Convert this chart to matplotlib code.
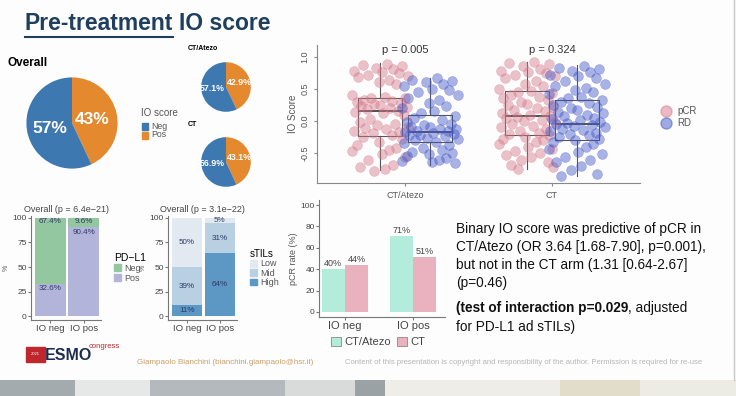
import matplotlib.pyplot as plt
from matplotlib.patches import Patch, Rectangle
from matplotlib.lines import Line2D

# ---- data ----
io_labels = ['Neg', 'Pos']
overall_pct = [57, 43]
atezo_pct = [57.1, 42.9]
ct_pct = [56.9, 43.1]

arms = ['CT/Atezo', 'CT']
p_values = ['p = 0.005', 'p = 0.324']
# IO score per patient
atezo_pcr = [0.88, 0.87, 0.85, 0.82, 0.80, 0.78, 0.76, 0.75, 0.72, 0.70, 0.68, 0.64, 0.60, 0.57,
             0.40, 0.38, 0.36, 0.35, 0.33, 0.31, 0.30, 0.28, 0.27, 0.25, 0.24, 0.22, 0.20, 0.18,
             0.16, 0.14, 0.12, 0.10, 0.03, -0.02, -0.05, -0.07, -0.09, -0.11, -0.13, -0.15, -0.17,
             -0.19, -0.22, -0.25, -0.28, -0.33, -0.38, -0.42, -0.45, -0.47, -0.52, -0.56, -0.60,
             -0.68, -0.72, -0.75, -0.78]
atezo_rd = [0.66, 0.64, 0.62, 0.60, 0.58, 0.55, 0.50, 0.48, 0.45, 0.40, 0.36, 0.32, 0.28, 0.24,
            0.20, 0.16, 0.12, 0.08, 0.05, 0.02, -0.02, -0.05, -0.07, -0.09, -0.10, -0.12, -0.13,
            -0.15, -0.16, -0.17, -0.18, -0.20, -0.21, -0.22, -0.24, -0.26, -0.28, -0.30, -0.32,
            -0.34, -0.38, -0.42, -0.45, -0.48, -0.50, -0.52, -0.55, -0.58, -0.60, -0.62, -0.64, -0.66]
ct_pcr = [0.92, 0.90, 0.88, 0.85, 0.80, 0.78, 0.76, 0.74, 0.72, 0.70, 0.66, 0.62, 0.58, 0.55,
          0.50, 0.47, 0.45, 0.43, 0.40, 0.38, 0.35, 0.32, 0.30, 0.27, 0.25, 0.22, 0.20, 0.17,
          0.15, 0.12, 0.10, 0.08, 0.06, 0.04, 0.02, 0.0, -0.02, -0.05, -0.08, -0.10, -0.12,
          -0.15, -0.18, -0.20, -0.22, -0.25, -0.28, -0.30, -0.33, -0.36, -0.40, -0.43, -0.46,
          -0.50, -0.53, -0.56, -0.60, -0.64, -0.68, -0.72, -0.74]
ct_rd = [0.86, 0.83, 0.80, 0.78, 0.76, 0.72, 0.70, 0.66, 0.62, 0.58, 0.55, 0.52, 0.48, 0.45,
         0.42, 0.38, 0.35, 0.32, 0.30, 0.28, 0.25, 0.22, 0.20, 0.17, 0.14, 0.12, 0.10, 0.07,
         0.05, 0.03, 0.01, -0.01, -0.03, -0.05, -0.06, -0.08, -0.10, -0.12, -0.14, -0.16,
         -0.18, -0.20, -0.22, -0.25, -0.28, -0.30, -0.33, -0.36, -0.40, -0.44, -0.48, -0.52,
         -0.56, -0.60, -0.64, -0.70, -0.76, -0.82, -0.86]
# horizontal jitter of the points (category units)
jitter = [0.05, -0.12, 0.15, -0.03, 0.09, -0.18, 0.01, 0.13, -0.08, 0.19, -0.15, 0.06, -0.01,
          0.11, -0.19, 0.03, -0.06, 0.17, -0.11, 0.08, -0.16, 0.14, -0.04, 0.00, -0.13, 0.18,
          0.07, -0.09, 0.12, -0.17, 0.02, 0.16, -0.07, -0.14, 0.10, -0.02, 0.19, -0.10, 0.04,
          -0.18, 0.13, -0.05, 0.08, -0.12, 0.15, -0.01, -0.16, 0.11, 0.06, -0.19, 0.01, 0.17,
          -0.08, 0.09, -0.14, 0.03, -0.04, 0.14, -0.11, 0.18, -0.06, 0.05, -0.17, 0.12]
# box stats: (q1, median, q3, low whisker, high whisker)
box_stats = {'atezo_pcr': (-0.23, 0.15, 0.36, -0.76, 0.90),
             'atezo_rd': (-0.33, -0.17, 0.09, -0.68, 0.66),
             'ct_pcr': (-0.21, 0.07, 0.46, -0.74, 0.92),
             'ct_rd': (-0.30, -0.04, 0.32, -0.86, 0.87)}

groups = ['IO neg', 'IO pos']
pdl1_pos = [32.6, 90.4]
pdl1_neg = [67.4, 9.6]
stil_high = [11, 64]
stil_mid = [39, 31]
stil_low = [50, 5]
pcr_atezo = [40, 71]
pcr_ct = [44, 51]

W, H = 736, 396
fig = plt.figure(figsize=(7.36, 3.96), dpi=100)
fig.patch.set_facecolor('#fdfdfd')
plt.rcParams['font.family'] = ['Liberation Sans', 'DejaVu Sans']
renderer = fig.canvas.get_renderer()


def box(x0, y0, x1, y1):
    # pixel box (top-left origin) -> figure fraction
    return [x0 / W, 1 - y1 / H, (x1 - x0) / W, (y1 - y0) / H]


def ftext(x, y, s, **kw):
    return fig.text(x / W, 1 - y / H, s, **kw)


def right_px(t):
    return t.get_window_extent(renderer).x1


BLUE = '#3d78b0'
ORANGE = '#e4892e'
TITLE_C = '#1f3f5e'

# ---- title ----
t = ftext(25, 24, 'Pre-treatment', fontsize=16.5, fontweight='bold', color=TITLE_C, va='center')
x_end = right_px(t)
fig.add_artist(Line2D([25 / W, x_end / W], [1 - 37 / H, 1 - 37 / H], color=TITLE_C, lw=1.5))
ftext(x_end + 6, 24, 'IO score', fontsize=16.5, fontweight='bold', color=TITLE_C, va='center')

# ---- pies ----
def pie(rect, vals):
    ax = fig.add_axes(rect)
    ax.pie([vals[1], vals[0]], colors=[ORANGE, BLUE], startangle=90,
           counterclock=False, radius=1)
    ax.set_aspect('equal')
    return ax

ax = pie(box(15, 66, 129, 180), overall_pct)
ax.text(-0.48, -0.12, f'{overall_pct[0]}%', color='white', fontsize=12.5, fontweight='bold',
        ha='center', va='center')
ax.text(0.45, 0.07, f'{overall_pct[1]}%', color='white', fontsize=12.5, fontweight='bold',
        ha='center', va='center')
ftext(8, 63, 'Overall', fontsize=8.5, fontweight='bold', va='center')

for (cy, vals, name) in [(87, atezo_pct, 'CT/Atezo'), (162, ct_pct, 'CT')]:
    ax = pie(box(195, cy - 31, 257, cy + 31), vals)
    ax.text(-0.55, -0.08, f'{vals[0]}%', color='white', fontsize=6.3, fontweight='bold',
            ha='center', va='center')
    ax.text(0.52, 0.18, f'{vals[1]}%', color='white', fontsize=6.3, fontweight='bold',
            ha='center', va='center')
    ftext(188, cy - 38, name, fontsize=5, fontweight='bold', va='center')

ftext(141, 113, 'IO score', fontsize=7, color='#555', va='center')
for i, (lab, c) in enumerate(zip(io_labels, [BLUE, ORANGE])):
    y = 126.5 + i * 8.5
    fig.add_artist(Rectangle((142 / W, 1 - (y + 3.5) / H), 6 / W, 7 / H, color=c))
    ftext(151, y, lab, fontsize=6.3, color='#555', va='center')

# ---- IO score strip/box plot ----
ax = fig.add_axes(box(317, 45, 640, 183))
PINK = '#d6788a'
NAVY = '#4357c8'
offs = -0.17, 0.17
series = [(1, atezo_pcr, 'atezo_pcr', 0), (1, atezo_rd, 'atezo_rd', 1),
          (2, ct_pcr, 'ct_pcr', 0), (2, ct_rd, 'ct_rd', 1)]
for xc, ys, key, k in series:
    pos = xc + offs[k]
    q1, med, q3, lo, hi = box_stats[key]
    ax.bxp([{'med': med, 'q1': q1, 'q3': q3, 'whislo': lo, 'whishi': hi, 'fliers': []}],
           positions=[pos], widths=0.3, showcaps=False, manage_ticks=False,
           boxprops=dict(color='#555', lw=0.8), whiskerprops=dict(color='#555', lw=0.8),
           medianprops=dict(color='#333', lw=1.2))
    xs = [pos + jitter[i % len(jitter)] for i in range(len(ys))]
    col = [PINK, NAVY][k]
    ax.scatter(xs, ys, s=50, color=col, alpha=0.45, edgecolors=col, linewidths=0.4, zorder=3)
ax.set_xlim(0.4, 2.6)
ax.set_ylim(-0.963, 1.18)
ax.set_xticks([1, 2], arms)
ax.set_yticks([-0.5, 0.0, 0.5, 1.0], ['-0.5', '0.0', '0.5', '1.0'])
for lab in ax.get_yticklabels():
    lab.set_rotation(90)
    lab.set_va('center')
ax.tick_params(labelsize=6.5, colors='#888', labelcolor='#555', length=2)
ax.set_ylabel('IO Score', fontsize=7, color='#555', labelpad=2)
for s in ['top', 'right']:
    ax.spines[s].set_visible(False)
for s in ['left', 'bottom']:
    ax.spines[s].set_color('#888')
ax.set_facecolor('none')
for xc, p in zip([1, 2], p_values):
    ax.text(xc, 1.1, p, ha='center', va='center', fontsize=8, color='#333')
ax.legend(handles=[Line2D([], [], marker='o', ls='', ms=8, color=PINK, alpha=0.5, label='pCR'),
                   Line2D([], [], marker='o', ls='', ms=8, color=NAVY, alpha=0.5, label='RD')],
          loc='center left', bbox_to_anchor=(648 / W, 1 - 117 / H), bbox_transform=fig.transFigure,
          frameon=False, fontsize=7, handletextpad=0.1, labelspacing=0.2, labelcolor='#555')


def style_small(ax):
    for s in ['top', 'right']:
        ax.spines[s].set_visible(False)
    for s in ['left', 'bottom']:
        ax.spines[s].set_color('#777')
    ax.tick_params(labelsize=6, colors='#777', labelcolor='#444', length=2, pad=1)
    ax.set_facecolor('none')


# ---- PD-L1 stacked bars ----
GREEN = '#93c79f'
LAV = '#b3b4da'
TXT = '#2f3a66'
ax = fig.add_axes(box(31, 216, 101, 320))
xs = [1, 2]
ax.bar(xs, pdl1_pos, width=0.93, color=LAV)
ax.bar(xs, pdl1_neg, width=0.93, bottom=pdl1_pos, color=GREEN)
for i in range(2):
    ax.text(xs[i], pdl1_pos[i] - 5, f'{pdl1_pos[i]}%', ha='center', va='center', fontsize=5.8, color=TXT)
    ax.text(xs[i], 100 - 4, f'{pdl1_neg[i]}%', ha='center', va='center', fontsize=5.8, color=TXT)
ax.set_xlim(0.42, 2.52)
ax.set_ylim(-4, 102)
ax.set_yticks([0, 25, 50, 75, 100])
ax.set_xticks(xs, groups)
style_small(ax)
ax.tick_params(axis='x', labelsize=6.8)
ax.set_ylabel('%', fontsize=5, color='#555', labelpad=2)
ax.set_title('Overall (p = 6.4e\u221221)', fontsize=6.5, color='#444', pad=3)
ax.legend(handles=[Patch(color=GREEN, label='Neg'), Patch(color=LAV, label='Pos')],
          title='PD\u2212L1', loc='center left', bbox_to_anchor=(106 / W, 1 - 268 / H),
          bbox_transform=fig.transFigure, frameon=False, fontsize=6.5, title_fontsize=7.5,
          handlelength=0.8, handleheight=0.8, handletextpad=0.3, labelspacing=0.1,
          alignment='left', labelcolor='#555')

# ---- sTILs stacked bars ----
S_LOW = '#e2e9f1'
S_MID = '#b8d0e2'
S_HIGH = '#5d97c4'
ax = fig.add_axes(box(168, 216, 237, 320))
ax.bar(xs, stil_high, width=0.93, color=S_HIGH)
ax.bar(xs, stil_mid, width=0.93, bottom=stil_high, color=S_MID)
bot2 = [a + b for a, b in zip(stil_high, stil_mid)]
ax.bar(xs, stil_low, width=0.93, bottom=bot2, color=S_LOW)
for i in range(2):
    ax.text(xs[i], stil_high[i] / 2, f'{stil_high[i]}%', ha='center', va='center', fontsize=5.8, color=TXT)
    ax.text(xs[i], stil_high[i] + stil_mid[i] / 2, f'{stil_mid[i]}%', ha='center', va='center', fontsize=5.8, color=TXT)
    ax.text(xs[i], bot2[i] + stil_low[i] / 2, f'{stil_low[i]}%', ha='center', va='center', fontsize=5.8, color=TXT)
ax.set_xlim(0.42, 2.52)
ax.set_ylim(-4, 102)
ax.set_yticks([0, 25, 50, 75, 100])
ax.set_xticks(xs, groups)
style_small(ax)
ax.tick_params(axis='x', labelsize=6.8)
ax.set_ylabel('%', fontsize=5, color='#555', labelpad=2)
ax.set_title('Overall (p = 3.1e\u221222)', fontsize=6.5, color='#444', pad=3)
ax.legend(handles=[Patch(color=S_LOW, label='Low'), Patch(color=S_MID, label='Mid'),
                   Patch(color=S_HIGH, label='High')],
          title='sTILs', loc='center left', bbox_to_anchor=(242 / W, 1 - 268 / H),
          bbox_transform=fig.transFigure, frameon=False, fontsize=6.5, title_fontsize=7,
          handlelength=0.8, handleheight=0.8, handletextpad=0.3, labelspacing=0.05,
          alignment='left', labelcolor='#555')

# ---- pCR rate bars ----
MINT = '#b4ecdc'
ROSE = '#eab2bf'
ax = fig.add_axes(box(319, 200, 445, 317))
ax.bar([x - 0.17 for x in xs], pcr_atezo, width=0.33, color=MINT)
ax.bar([x + 0.17 for x in xs], pcr_ct, width=0.33, color=ROSE)
for i in range(2):
    ax.text(xs[i] - 0.17, pcr_atezo[i] + 1, f'{pcr_atezo[i]}%', ha='center', va='bottom', fontsize=6.5, color='#444')
    ax.text(xs[i] + 0.17, pcr_ct[i] + 1, f'{pcr_ct[i]}%', ha='center', va='bottom', fontsize=6.5, color='#444')
ax.set_xlim(0.62, 2.47)
ax.set_ylim(-4.7, 104.7)
ax.set_yticks([0, 20, 40, 60, 80, 100])
ax.set_xticks(xs, groups)
style_small(ax)
ax.tick_params(axis='x', labelsize=8)
ax.set_ylabel('pCR rate (%)', fontsize=6.5, color='#555', labelpad=2)
ax.legend(handles=[Patch(facecolor=MINT, edgecolor='#777', lw=0.5, label='CT/Atezo'),
                   Patch(facecolor=ROSE, edgecolor='#777', lw=0.5, label='CT')],
          loc='center', bbox_to_anchor=(378 / W, 1 - 342 / H), bbox_transform=fig.transFigure,
          ncol=2, frameon=False, fontsize=8, handlelength=0.9, handleheight=0.9,
          handletextpad=0.3, columnspacing=0.6, labelcolor='#444')

# ---- text block ----
FS = 9.8
lines = ['Binary IO score was predictive of pCR in',
         'CT/Atezo (OR 3.64 [1.68-7.90], p=0.001),',
         'but not in the CT arm (1.31 [0.64-2.67]',
         '(p=0.46)']
for i, s in enumerate(lines):
    ftext(456, 229 + i * 18, s, fontsize=FS, color='#111', va='center')
t = ftext(456, 308, '(test of interaction p=0.029', fontsize=FS, fontweight='bold',
          color='#111', va='center')
ftext(right_px(t), 308, ', adjusted', fontsize=FS, color='#111', va='center')
ftext(456, 327, 'for PD-L1 ad sTILs)', fontsize=FS, color='#111', va='center')

# ---- footer ----
fig.add_artist(Rectangle((26 / W, 1 - 362 / H), 19 / W, 15 / H, color='#c0272d'))
ftext(35.5, 354, '2021', fontsize=3, color='white', ha='center', va='center')
ftext(45, 355, 'ESMO', fontsize=11.5, fontweight='bold', color='#1d2d4f', va='center')
ftext(89, 346, 'congress', fontsize=5.5, color='#c0272d', va='center')
ftext(137, 362, 'Giampaolo Bianchini (bianchini.giampaolo@hsr.it)', fontsize=5.8, color='#c9a06b',
      va='center')
ftext(345, 362, 'Content of this presentation is copyright and responsibility of the author. '
      'Permission is required for re-use', fontsize=5.5, color='#b5b5b5', va='center')

# bottom band of the slide screenshot
for x0, x1, c in [(0, 75, '#a3abaf'), (75, 150, '#e6e8e8'), (150, 285, '#b3b9bc'),
                  (285, 355, '#d8dbda'), (355, 385, '#9aa2a6'), (385, 560, '#eeede8'),
                  (560, 640, '#e2dccb'), (640, 736, '#ecebe4')]:
    fig.add_artist(Rectangle((x0 / W, 0), (x1 - x0) / W, 16 / H, color=c, lw=0))
fig.add_artist(Line2D([734 / W, 734 / W], [16 / H, 1], color='#c8c8c8', lw=1))

fig.savefig('out.png', dpi=100, facecolor=fig.get_facecolor())
